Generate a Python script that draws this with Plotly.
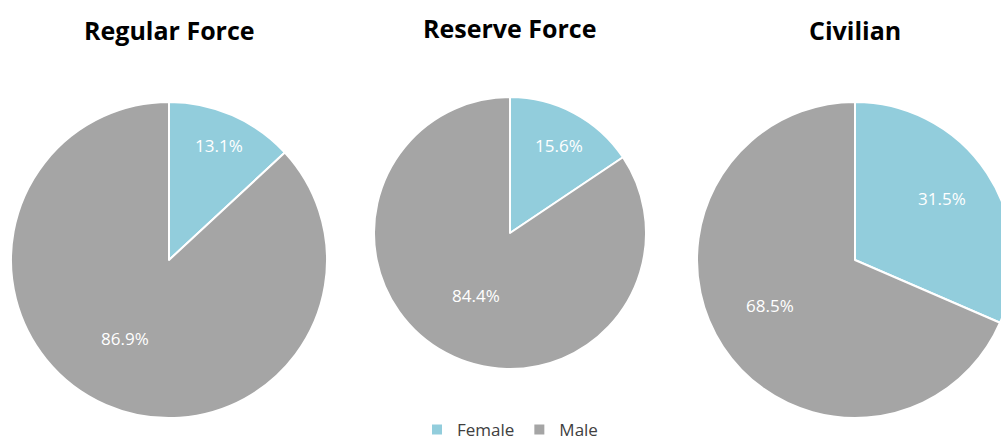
import math
import plotly.graph_objects as go

# Gender split by workforce component (percent)
groups = ["Regular Force", "Reserve Force", "Civilian"]
labels = ["Female", "Male"]
female_pct = [13.1, 15.6, 31.5]
male_pct = [86.9, 84.4, 68.5]

colors = ["#92CDDC", "#A5A5A5"]

# canvas is slightly larger than the visible page; overflow is hidden
W, H = 1015, 448

# pie bounding boxes in pixels: (left, right, top, bottom)
boxes = [(11, 327, 102, 418), (374, 646, 97, 369), (697, 1013, 102, 418)]
title_y = [30, 28, 30]
# value-label placement: fraction of radius and angular nudge (degrees) per slice
label_radius = [(0.794, 0.572), (0.74, 0.52), (0.67, 0.61)]
label_nudge = [(0.0, 5.5), (1.0, 0.6), (-1.9, 5.1)]

fig = go.Figure()
for i, g in enumerate(groups):
    l, r, t, b = boxes[i]
    vals = [female_pct[i], male_pct[i]]
    fig.add_trace(go.Pie(
        labels=labels,
        values=vals,
        sort=False,
        direction="clockwise",
        rotation=0,
        marker=dict(colors=colors, line=dict(color="white", width=2)),
        textinfo="none",
        hoverinfo="label+percent",
        showlegend=(i == 0),
        domain=dict(x=[l / W, r / W], y=[(H - b) / H, (H - t) / H]),
    ))
    fig.add_annotation(
        text=f"<b>{g}</b>", x=(l + r) / 2 / W, y=1 - title_y[i] / H,
        xref="paper", yref="paper", showarrow=False,
        xanchor="center", yanchor="middle",
        font=dict(family="Open Sans", size=25, color="#000000"),
    )

    # slice value labels, placed along each slice's mid-angle
    cx, cy, R = (l + r) / 2, (t + b) / 2, (r - l) / 2
    total = sum(vals)
    cum = 0.0
    for j, v in enumerate(vals):
        theta = math.radians((cum + v / 2) / total * 360 + label_nudge[i][j])
        cum += v
        f = label_radius[i][j]
        px = cx + f * R * math.sin(theta)
        py = cy - f * R * math.cos(theta)
        fig.add_annotation(
            text=f"{v:.1f}%", x=px / W, y=1 - py / H,
            xref="paper", yref="paper", showarrow=False,
            xanchor="center", yanchor="middle",
            font=dict(family="Open Sans", size=17, color="white"),
        )

fig.update_layout(
    width=W, height=H,
    margin=dict(l=0, r=0, t=0, b=0),
    paper_bgcolor="white",
    plot_bgcolor="white",
    legend=dict(
        orientation="h", x=510 / W, xanchor="center", y=0, yanchor="bottom",
        font=dict(family="Open Sans", size=17, color="#404040"),
        itemwidth=30, bgcolor="rgba(0,0,0,0)",
    ),
)

fig.write_html("out.html", post_script="document.body.style.margin='0';document.body.style.overflow='hidden';")
